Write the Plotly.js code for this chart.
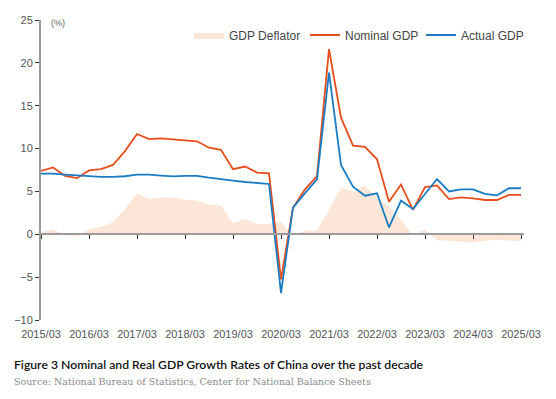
<!DOCTYPE html>
<html>
<head>
<meta charset="utf-8">
<script src="https://cdn.plot.ly/plotly-3.0.1.min.js"></script>
<style>
html,body{margin:0;padding:0;background:#ffffff;}
#chart{width:556px;height:399px;}
</style>
</head>
<body>
<div id="chart"></div>
<script>
// Quarterly categories (end month of each quarter)
const quarters = [
  "2015/03","2015/06","2015/09","2015/12",
  "2016/03","2016/06","2016/09","2016/12",
  "2017/03","2017/06","2017/09","2017/12",
  "2018/03","2018/06","2018/09","2018/12",
  "2019/03","2019/06","2019/09","2019/12",
  "2020/03","2020/06","2020/09","2020/12",
  "2021/03","2021/06","2021/09","2021/12",
  "2022/03","2022/06","2022/09","2022/12",
  "2023/03","2023/06","2023/09","2023/12",
  "2024/03","2024/06","2024/09","2024/12",
  "2025/03"
];
const xTickLabels = ["2015/03","2016/03","2017/03","2018/03","2019/03","2020/03","2021/03","2022/03","2023/03","2024/03","2025/03"];
const yTickValues = [-10,-5,0,5,10,15,20,25];

// GDP deflator (%)
const deflator = [
  0.25, 0.6, -0.1, -0.25,
  0.6, 0.85, 1.4, 2.95,
  4.75, 4.1, 4.3, 4.3,
  4.05, 3.95, 3.45, 3.35,
  1.25, 1.8, 1.2, 1.2,
  1.4, -0.2, 0.45, 0.45,
  2.8, 5.45, 5.0, 5.65,
  4.2, 3.2, 1.7, -0.1,
  0.6, -0.7, -0.75, -0.85,
  -1.0, -0.75, -0.65, -0.72,
  -0.75
];
// Nominal GDP growth (%)
const nominal = [
  7.4, 7.8, 6.8, 6.55,
  7.45, 7.6, 8.1, 9.7,
  11.7, 11.1, 11.2, 11.1,
  11.0, 10.85, 10.1, 9.85,
  7.6, 7.9, 7.2, 7.1,
  -5.25, 3.1, 5.25, 6.8,
  21.6, 13.6, 10.35, 10.2,
  8.75, 3.8, 5.8, 2.85,
  5.5, 5.7, 4.1, 4.3,
  4.2, 4.0, 4.0, 4.6,
  4.6
];
// Actual (real) GDP growth (%)
const actual = [
  7.07, 7.07, 6.96, 6.85,
  6.77, 6.7, 6.7, 6.77,
  6.96, 6.96, 6.85, 6.75,
  6.82, 6.82, 6.6, 6.4,
  6.25, 6.1, 6.0, 5.87,
  -6.85, 3.1, 4.8, 6.4,
  18.85, 8.1, 5.55, 4.5,
  4.78, 0.8, 3.92, 2.95,
  4.7, 6.45, 5.0, 5.25,
  5.25, 4.72, 4.55, 5.37,
  5.37
];

const xRange = [0, 40.25];
const yRange = [-10, 25];
const axisGrey = '#9b9b9b';
const tickDark = '#333333';
const labelGrey = '#555555';

const traces = [
  {
    type: 'scatter', mode: 'lines', name: 'GDP Deflator',
    x: quarters, y: deflator,
    fill: 'tozeroy', fillcolor: '#FBE6D7',
    line: {color: '#FBE6D7', width: 0},
    hoverinfo: 'skip'
  },
  {
    type: 'scatter', mode: 'lines', name: 'Nominal GDP',
    x: quarters, y: nominal,
    line: {color: '#E84E1B', width: 1.8}
  },
  {
    type: 'scatter', mode: 'lines', name: 'Actual GDP',
    x: quarters, y: actual,
    line: {color: '#1B7CC4', width: 1.8}
  },
  {
    // invisible helper so the zero-line axis (x2) is drawn
    type: 'scatter', mode: 'lines', x: quarters, y: nominal,
    xaxis: 'x2', yaxis: 'y', showlegend: false, hoverinfo: 'skip',
    line: {width: 0}, opacity: 0
  }
];

const layout = {
  width: 556, height: 399,
  margin: {l: 41, r: 32, t: 20, b: 79},
  paper_bgcolor: '#ffffff', plot_bgcolor: '#ffffff',
  font: {family: 'Liberation Sans, Arial, sans-serif', size: 11, color: labelGrey},
  showlegend: true,
  legend: {
    orientation: 'h', xref: 'paper', yref: 'paper',
    x: 148/483, y: 285/300, xanchor: 'left', yanchor: 'middle',
    font: {size: 12, color: '#444444'},
    bgcolor: 'rgba(0,0,0,0)', borderwidth: 0,
    entrywidth: 71, entrywidthmode: 'pixels',
    tracegroupgap: 0, itemclick: false
  },
  xaxis: {
    type: 'category', categoryorder: 'array', categoryarray: quarters,
    range: xRange, tickmode: 'array', tickvals: xTickLabels, ticktext: xTickLabels,
    showline: false, ticks: '', showgrid: false, zeroline: false,
    tickfont: {size: 11, color: labelGrey}, tickangle: 0, fixedrange: true,
    ticklabelstandoff: 6
  },
  xaxis2: {
    type: 'category', categoryorder: 'array', categoryarray: quarters,
    overlaying: 'x', anchor: 'free', position: 10/35, side: 'bottom',
    range: xRange, tickmode: 'array', tickvals: xTickLabels,
    showticklabels: false, showline: true, linecolor: axisGrey, linewidth: 2,
    ticks: 'outside', ticklen: 4, tickwidth: 1, tickcolor: tickDark,
    showgrid: false, zeroline: false, layer: 'above traces', fixedrange: true
  },
  yaxis: {
    range: yRange, tickmode: 'array', tickvals: yTickValues,
    showline: true, linecolor: axisGrey, linewidth: 2,
    ticks: 'outside', ticklen: 4, tickwidth: 1, tickcolor: tickDark,
    showgrid: false, zeroline: false,
    tickfont: {size: 11, color: labelGrey}, fixedrange: true
  },
  annotations: [
    {
      text: '(%)', xref: 'paper', yref: 'paper', x: 8/483, y: 0.99,
      xanchor: 'left', yanchor: 'middle', showarrow: false,
      font: {size: 9, color: '#666666'}
    },
    {
      text: 'Figure 3 Nominal and Real GDP Growth Rates of China over the past decade',
      xref: 'paper', yref: 'paper', x: -29/483, y: -44/300,
      xanchor: 'left', yanchor: 'middle', showarrow: false,
      font: {family: 'Lato, sans-serif', size: 12.2, color: '#111111', weight: 600}
    },
    {
      text: 'Source: National Bureau of Statistics, Center for National Balance Sheets',
      xref: 'paper', yref: 'paper', x: -29/483, y: -61.7/300,
      xanchor: 'left', yanchor: 'middle', showarrow: false,
      font: {family: 'DejaVu Serif, serif', size: 9.5, color: '#8a8a8a'}
    }
  ]
};

Plotly.newPlot('chart', traces, layout, {displayModeBar: false, staticPlot: true});
</script>
</body>
</html>
